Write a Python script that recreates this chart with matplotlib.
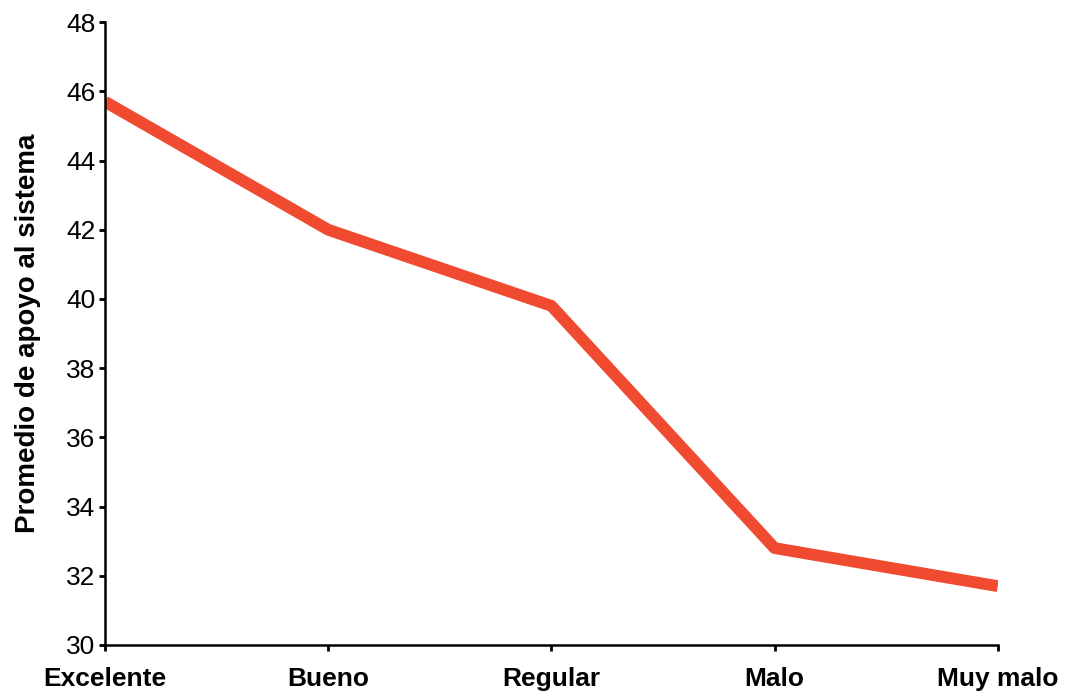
import matplotlib
matplotlib.use("Agg")
import matplotlib.pyplot as plt

categories = ["Excelente", "Bueno", "Regular", "Malo", "Muy malo"]
values = [45.7, 42.0, 39.8, 32.8, 31.7]
yticks = [30, 32, 34, 36, 38, 40, 42, 44, 46, 48]

plt.rcParams['font.family'] = ['Liberation Sans', 'DejaVu Sans']

fig = plt.figure(figsize=(10.66, 6.91), dpi=100)
ax = fig.add_axes([0.0985, 0.0666, 0.8375, 0.9014])
x = list(range(len(categories)))
ax.plot(x, values, color='#F04A30', linewidth=8.5, solid_capstyle='butt')
ax.set_xlim(0, len(categories) - 1)
ax.set_ylim(30, 48)
ax.set_yticks(yticks)
ax.set_yticklabels([str(t) for t in yticks], fontsize=19)
ax.set_xticks(x)
ax.set_xticklabels(categories, fontsize=19, fontweight='bold')
ax.tick_params(axis='both', direction='out', length=4, width=2)
ax.tick_params(axis='x', pad=12)
ax.tick_params(axis='y', pad=3)
for s in ['top', 'right']:
    ax.spines[s].set_visible(False)
for s in ['left', 'bottom']:
    ax.spines[s].set_linewidth(1.8)
ax.set_ylabel("Promedio de apoyo al sistema", fontsize=20, fontweight='bold', labelpad=18)
fig.savefig("out.png", dpi=100)
